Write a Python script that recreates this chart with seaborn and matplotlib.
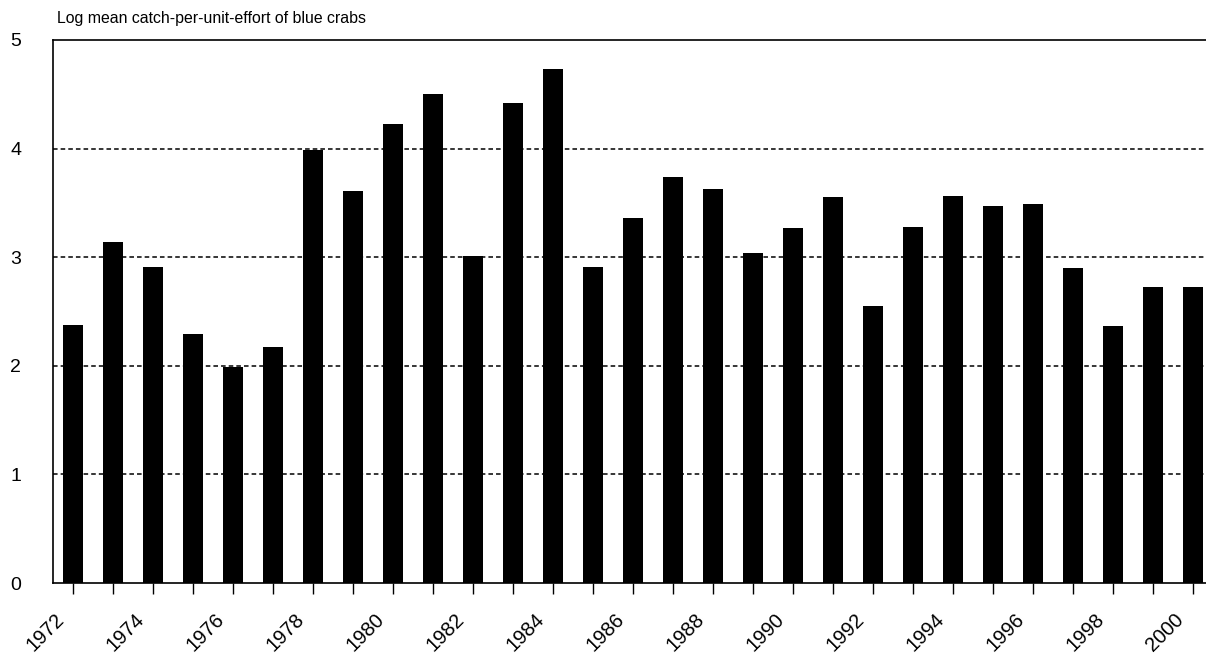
import matplotlib
matplotlib.use("Agg")
import matplotlib.pyplot as plt
import matplotlib.transforms as mtransforms
import pandas as pd
import seaborn as sns

# values
years = list(range(1972, 2001))
log_cpue = [2.38, 3.14, 2.91, 2.29, 1.99, 2.17, 3.99, 3.61, 4.23, 4.50,
            3.01, 4.42, 4.73, 2.91, 3.36, 3.74, 3.63, 3.04, 3.27, 3.55,
            2.55, 3.28, 3.56, 3.47, 3.49, 2.90, 2.37, 2.73, 2.73]
y_ticks = [0, 1, 2, 3, 4, 5]
title = "Log mean catch-per-unit-effort of blue crabs"

df = pd.DataFrame({"year": [str(y) for y in years], "cpue": log_cpue})

sns.set_style("white")
plt.rcParams["font.family"] = ["Liberation Sans", "DejaVu Sans"]
plt.rcParams["text.color"] = "black"
plt.rcParams["xtick.color"] = "black"
plt.rcParams["ytick.color"] = "black"

fig = plt.figure(figsize=(12.06, 6.58), dpi=100)
W, H = 1206, 658
ax = fig.add_axes([53 / W, (H - 583) / H, 1160 / W, 543 / H])

sns.barplot(data=df, x="year", y="cpue", color="black", saturation=1,
            width=0.5, errorbar=None, ax=ax, zorder=3, linewidth=0)

ax.set_ylim(0, 5)
ax.set_xlim(-0.5, len(years) - 0.5)
ax.set_xlabel("")
ax.set_ylabel("")

# dashed grid lines
for v in y_ticks[1:-1]:
    ax.axhline(v, color="black", lw=1.1, ls=(0, (3, 2)), zorder=1)

for side in ["left", "bottom", "top"]:
    ax.spines[side].set_visible(True)
    ax.spines[side].set_color("black")
    ax.spines[side].set_linewidth(1.2)
ax.spines["right"].set_visible(False)

ax.set_yticks(y_ticks)
ax.set_yticklabels([str(v) for v in y_ticks], fontsize=14)
ax.tick_params(axis="y", length=0, pad=23)

ax.set_xticks(range(len(years)))
ax.set_xticklabels([str(y) if (y - 1972) % 2 == 0 else "" for y in years],
                   rotation=45, ha="right", va="center",
                   rotation_mode="anchor", fontsize=14.5)
ax.tick_params(axis="x", bottom=True, length=8, width=1, color="black",
               direction="out", pad=16)
offset = mtransforms.ScaledTranslation(-12 / 100, 0, fig.dpi_scale_trans)
for lab in ax.get_xticklabels():
    lab.set_transform(lab.get_transform() + offset)

fig.text(57 / W, 1 - 23 / H, title, fontsize=11.4, ha="left", va="baseline")

fig.savefig("out.png", dpi=100, facecolor="white")
